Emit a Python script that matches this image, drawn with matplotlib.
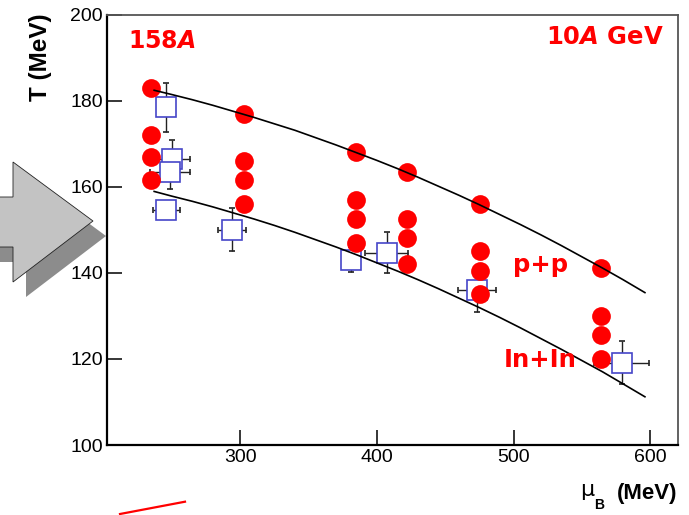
import matplotlib
matplotlib.use("Agg")
import matplotlib.pyplot as plt
from matplotlib.patches import Polygon
from matplotlib.lines import Line2D

plt.rcParams['mathtext.fontset'] = 'custom'
plt.rcParams['mathtext.it'] = 'DejaVu Sans:italic:bold'
plt.rcParams['mathtext.rm'] = 'DejaVu Sans:bold'

# ---- data ----
circle_mu = [235, 303, 385, 422, 475, 564]
circle_T1 = [183, 177, 168, 163.5, 156, 141]
circle_T2 = [172, 166, 157, 152.5, 145, 130]
circle_T3 = [167, 161.5, 152.5, 148, 140.5, 125.5]
circle_T4 = [161.5, 156, 147, 142, 135, 120]

sq_mu = [246, 250, 248.5, 246, 294, 381, 407, 473, 579]
sq_T = [178.4, 166.4, 163.5, 154.7, 150, 143, 144.7, 136, 119.1]
sq_xerr = [0, 13, 14.5, 10, 10, 4, 16, 14, 20]
sq_yerr = [5.8, 4.4, 4, 2, 5, 2.9, 4.8, 5, 5]

curve_mu = [237, 250, 265, 280, 295, 310, 325, 340, 355, 370, 385, 400, 415,
            430, 445, 460, 475, 490, 505, 520, 535, 550, 565, 580, 596]
curve_upper = [182.4, 181.4, 180.2, 178.9, 177.5, 176.1, 174.6, 173.1, 171.4,
               169.7, 167.9, 166.1, 164.2, 162.2, 160.1, 158.0, 155.8, 153.5,
               151.2, 148.8, 146.3, 143.7, 141.1, 138.4, 135.4]
curve_lower = [158.9, 157.8, 156.6, 155.3, 153.9, 152.5, 151.0, 149.4, 147.7,
               146.0, 144.2, 142.3, 140.4, 138.4, 136.3, 134.1, 131.9, 129.6,
               127.2, 124.7, 122.2, 119.6, 117.0, 114.2, 111.2]

xticks = [300, 400, 500, 600]
yticks = [100, 120, 140, 160, 180, 200]

W, H = 689, 515
fig = plt.figure(figsize=(W / 100, H / 100), dpi=100)

def fx(px):
    return px / W

def fy(py):
    return 1 - py / H

ax = fig.add_axes([fx(107), fy(445), (678 - 107) / W, (445 - 14.5) / H])
ax.set_facecolor('white')

# curves
ax.plot(curve_mu, curve_upper, color='black', lw=1.2, zorder=4)
ax.plot(curve_mu, curve_lower, color='black', lw=1.2, zorder=4)

# squares with error bars
ax.errorbar(sq_mu, sq_T, xerr=sq_xerr, yerr=sq_yerr, fmt='s', ms=14,
            mfc='white', mec='#4646c8', mew=1.2, ecolor='#222222',
            elinewidth=1.0, capsize=2.2, capthick=1.0, zorder=2)

# red circles
for row in (circle_T1, circle_T2, circle_T3, circle_T4):
    ax.plot(circle_mu, row, 'o', ms=13.5, color='#ff0000', mec='none', zorder=3)

ax.set_xlim(202.5, 620.2)
ax.set_ylim(100, 200)
ax.set_xticks(xticks)
ax.set_yticks(yticks)
ax.tick_params(direction='in', length=11, width=1.1, labelsize=14, pad=3,
               colors='black')
for lab in ax.get_xticklabels() + ax.get_yticklabels():
    lab.set_fontfamily('Liberation Sans')
for s in ('left', 'bottom'):
    ax.spines[s].set_linewidth(1.6)
    ax.spines[s].set_color('black')
for s in ('top', 'right'):
    ax.spines[s].set_linewidth(1.3)
    ax.spines[s].set_color('#555555')

red = '#ff0000'
ax.text(217.9, 193.8, r'158$A$', color=red, fontsize=17, fontweight='bold',
        family='DejaVu Sans', ha='left', va='center', zorder=6)
ax.text(610, 194.8, r'10$A$ GeV', color=red, fontsize=17.5, fontweight='bold',
        family='DejaVu Sans', ha='right', va='center', zorder=6)
ax.text(499.6, 140.3, 'p+p', color=red, fontsize=17.5, fontweight='bold',
        family='DejaVu Sans', ha='left', va='baseline', zorder=6)
ax.text(492.4, 118.2, 'In+In', color=red, fontsize=17.5, fontweight='bold',
        family='DejaVu Sans', ha='left', va='baseline', zorder=6)

# axis labels
fig.text(fx(40), fy(13), 'T (MeV)', rotation=90, fontsize=17.5, fontweight='bold',
         family='Liberation Sans', ha='center', va='top')
fig.text(fx(677), fy(493), '(MeV)', fontsize=16, fontweight='bold',
         family='Liberation Sans', ha='right', va='center')
fig.text(fx(580), fy(490), '\u03bc', fontsize=16, family='DejaVu Sans',
         ha='left', va='center')
fig.text(fx(594), fy(505), 'B', fontsize=10, fontweight='bold',
         family='Liberation Sans', ha='left', va='center')

# decorative arrow (slide background)
def poly(pts, **kw):
    p = Polygon([(fx(a), fy(b)) for a, b in pts], closed=True,
                transform=fig.transFigure, **kw)
    fig.add_artist(p)

shadow = [(-5, 212), (26, 212), (26, 177), (106, 236), (26, 297), (26, 262), (-5, 262)]
arrow = [(-5, 197), (13, 197), (13, 162), (93, 221), (13, 282), (13, 247), (-5, 247)]
poly(shadow, facecolor='#8c8c8c', edgecolor='none', zorder=-2)
poly(arrow, facecolor='#c3c3c3', edgecolor='#222222', lw=0.6, zorder=-1)

fig.add_artist(Line2D([fx(120), fx(185)], [fy(514), fy(501.7)], color='#ff0000',
                      lw=1.6, transform=fig.transFigure))

fig.savefig('out.png', dpi=100)
